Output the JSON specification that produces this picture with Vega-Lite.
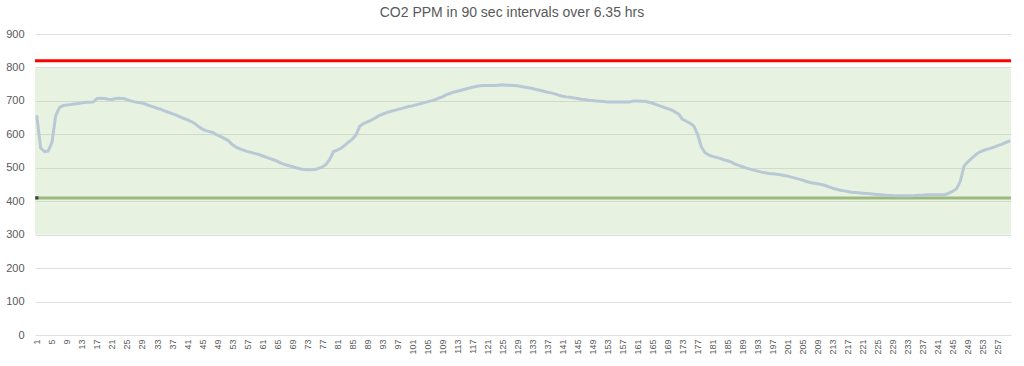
{
  "$schema": "https://vega.github.io/schema/vega-lite/v6.json",
  "autosize": {"type": "none"},
  "width": 976,
  "height": 301,
  "padding": {"left": 35, "top": 34, "right": 13, "bottom": 31},
  "background": "white",
  "title": {
    "text": "CO2 PPM in 90 sec intervals over 6.35 hrs",
    "font": "Liberation Sans",
    "fontSize": 14,
    "fontWeight": "normal",
    "color": "#595959",
    "offset": 8,
    "dx": -11
  },
  "config": {
    "view": {"stroke": null},
    "axis": {"labelFont": "Liberation Sans", "labelColor": "#595959"}
  },
  "datasets": {
    "co2": [
      {"i":1,"ppm":653},{"i":2,"ppm":560},{"i":3,"ppm":548},{"i":4,"ppm":550},{"i":5,"ppm":575},{"i":6,"ppm":655},{"i":7,"ppm":680},{"i":8,"ppm":686},{"i":9,"ppm":688},{"i":10,"ppm":689},
      {"i":11,"ppm":691},{"i":12,"ppm":692},{"i":13,"ppm":694},{"i":14,"ppm":696},{"i":15,"ppm":696},{"i":16,"ppm":697},{"i":17,"ppm":707},{"i":18,"ppm":708},{"i":19,"ppm":707},{"i":20,"ppm":705},
      {"i":21,"ppm":704},{"i":22,"ppm":707},{"i":23,"ppm":708},{"i":24,"ppm":707},{"i":25,"ppm":704},{"i":26,"ppm":700},{"i":27,"ppm":697},{"i":28,"ppm":695},{"i":29,"ppm":694},{"i":30,"ppm":690},
      {"i":31,"ppm":686},{"i":32,"ppm":682},{"i":33,"ppm":678},{"i":34,"ppm":675},{"i":35,"ppm":670},{"i":36,"ppm":666},{"i":37,"ppm":662},{"i":38,"ppm":658},{"i":39,"ppm":653},{"i":40,"ppm":648},
      {"i":41,"ppm":644},{"i":42,"ppm":639},{"i":43,"ppm":633},{"i":44,"ppm":624},{"i":45,"ppm":616},{"i":46,"ppm":611},{"i":47,"ppm":608},{"i":48,"ppm":605},{"i":49,"ppm":598},{"i":50,"ppm":593},
      {"i":51,"ppm":587},{"i":52,"ppm":581},{"i":53,"ppm":570},{"i":54,"ppm":562},{"i":55,"ppm":557},{"i":56,"ppm":553},{"i":57,"ppm":549},{"i":58,"ppm":546},{"i":59,"ppm":543},{"i":60,"ppm":540},
      {"i":61,"ppm":536},{"i":62,"ppm":532},{"i":63,"ppm":528},{"i":64,"ppm":524},{"i":65,"ppm":520},{"i":66,"ppm":514},{"i":67,"ppm":510},{"i":68,"ppm":507},{"i":69,"ppm":504},{"i":70,"ppm":500},
      {"i":71,"ppm":497},{"i":72,"ppm":495},{"i":73,"ppm":494},{"i":74,"ppm":494},{"i":75,"ppm":495},{"i":76,"ppm":498},{"i":77,"ppm":502},{"i":78,"ppm":510},{"i":79,"ppm":525},{"i":80,"ppm":548},
      {"i":81,"ppm":553},{"i":82,"ppm":558},{"i":83,"ppm":567},{"i":84,"ppm":577},{"i":85,"ppm":585},{"i":86,"ppm":598},{"i":87,"ppm":624},{"i":88,"ppm":632},{"i":89,"ppm":637},{"i":90,"ppm":642},
      {"i":91,"ppm":648},{"i":92,"ppm":655},{"i":93,"ppm":660},{"i":94,"ppm":664},{"i":95,"ppm":668},{"i":96,"ppm":671},{"i":97,"ppm":674},{"i":98,"ppm":677},{"i":99,"ppm":680},{"i":100,"ppm":683},
      {"i":101,"ppm":685},{"i":102,"ppm":688},{"i":103,"ppm":691},{"i":104,"ppm":694},{"i":105,"ppm":697},{"i":106,"ppm":700},{"i":107,"ppm":703},{"i":108,"ppm":708},{"i":109,"ppm":712},{"i":110,"ppm":718},
      {"i":111,"ppm":722},{"i":112,"ppm":726},{"i":113,"ppm":729},{"i":114,"ppm":732},{"i":115,"ppm":735},{"i":116,"ppm":738},{"i":117,"ppm":741},{"i":118,"ppm":743},{"i":119,"ppm":745},{"i":120,"ppm":746},
      {"i":121,"ppm":746},{"i":122,"ppm":746},{"i":123,"ppm":746},{"i":124,"ppm":747},{"i":125,"ppm":748},{"i":126,"ppm":747},{"i":127,"ppm":747},{"i":128,"ppm":746},{"i":129,"ppm":745},{"i":130,"ppm":743},
      {"i":131,"ppm":741},{"i":132,"ppm":739},{"i":133,"ppm":737},{"i":134,"ppm":734},{"i":135,"ppm":732},{"i":136,"ppm":729},{"i":137,"ppm":726},{"i":138,"ppm":724},{"i":139,"ppm":721},{"i":140,"ppm":717},
      {"i":141,"ppm":714},{"i":142,"ppm":712},{"i":143,"ppm":711},{"i":144,"ppm":709},{"i":145,"ppm":707},{"i":146,"ppm":705},{"i":147,"ppm":704},{"i":148,"ppm":702},{"i":149,"ppm":701},{"i":150,"ppm":700},
      {"i":151,"ppm":699},{"i":152,"ppm":698},{"i":153,"ppm":697},{"i":154,"ppm":697},{"i":155,"ppm":697},{"i":156,"ppm":697},{"i":157,"ppm":697},{"i":158,"ppm":697},{"i":159,"ppm":697},{"i":160,"ppm":700},
      {"i":161,"ppm":700},{"i":162,"ppm":699},{"i":163,"ppm":699},{"i":164,"ppm":696},{"i":165,"ppm":693},{"i":166,"ppm":689},{"i":167,"ppm":685},{"i":168,"ppm":681},{"i":169,"ppm":677},{"i":170,"ppm":673},
      {"i":171,"ppm":667},{"i":172,"ppm":660},{"i":173,"ppm":645},{"i":174,"ppm":639},{"i":175,"ppm":633},{"i":176,"ppm":625},{"i":177,"ppm":600},{"i":178,"ppm":563},{"i":179,"ppm":545},{"i":180,"ppm":538},
      {"i":181,"ppm":534},{"i":182,"ppm":531},{"i":183,"ppm":528},{"i":184,"ppm":524},{"i":185,"ppm":521},{"i":186,"ppm":517},{"i":187,"ppm":511},{"i":188,"ppm":507},{"i":189,"ppm":503},{"i":190,"ppm":499},
      {"i":191,"ppm":496},{"i":192,"ppm":493},{"i":193,"ppm":490},{"i":194,"ppm":487},{"i":195,"ppm":485},{"i":196,"ppm":483},{"i":197,"ppm":482},{"i":198,"ppm":481},{"i":199,"ppm":479},{"i":200,"ppm":477},
      {"i":201,"ppm":475},{"i":202,"ppm":472},{"i":203,"ppm":469},{"i":204,"ppm":466},{"i":205,"ppm":463},{"i":206,"ppm":459},{"i":207,"ppm":456},{"i":208,"ppm":454},{"i":209,"ppm":452},{"i":210,"ppm":450},
      {"i":211,"ppm":447},{"i":212,"ppm":443},{"i":213,"ppm":439},{"i":214,"ppm":436},{"i":215,"ppm":433},{"i":216,"ppm":431},{"i":217,"ppm":429},{"i":218,"ppm":427},{"i":219,"ppm":426},{"i":220,"ppm":425},
      {"i":221,"ppm":424},{"i":222,"ppm":423},{"i":223,"ppm":422},{"i":224,"ppm":421},{"i":225,"ppm":420},{"i":226,"ppm":419},{"i":227,"ppm":418},{"i":228,"ppm":417},{"i":229,"ppm":417},{"i":230,"ppm":416},
      {"i":231,"ppm":416},{"i":232,"ppm":416},{"i":233,"ppm":416},{"i":234,"ppm":416},{"i":235,"ppm":417},{"i":236,"ppm":418},{"i":237,"ppm":418},{"i":238,"ppm":419},{"i":239,"ppm":419},{"i":240,"ppm":419},
      {"i":241,"ppm":419},{"i":242,"ppm":419},{"i":243,"ppm":420},{"i":244,"ppm":424},{"i":245,"ppm":430},{"i":246,"ppm":437},{"i":247,"ppm":460},{"i":248,"ppm":505},{"i":249,"ppm":518},{"i":250,"ppm":528},
      {"i":251,"ppm":538},{"i":252,"ppm":546},{"i":253,"ppm":551},{"i":254,"ppm":555},{"i":255,"ppm":558},{"i":256,"ppm":562},{"i":257,"ppm":566},{"i":258,"ppm":570},{"i":259,"ppm":575},{"i":260,"ppm":580}
    ],
    "band": [{"low": 300, "high": 800}],
    "upper": [{"level": 820}],
    "lower": [{"level": 410}],
    "marker": [{"i": 1, "level": 410}]
  },
  "encoding": {
    "x": {
      "field": "i",
      "type": "quantitative",
      "scale": {"domain": [0.5, 260.5], "nice": false, "zero": false},
      "axis": {
        "title": null,
        "grid": false,
        "domain": false,
        "ticks": false,
        "labelAngle": -90,
        "labelFontSize": 9,
        "labelPadding": 4,
        "labelFlush": false,
        "labelOverlap": false,
        "values": [1,5,9,13,17,21,25,29,33,37,41,45,49,53,57,61,65,69,73,77,81,85,89,93,97,101,105,109,113,117,121,125,129,133,137,141,145,149,153,157,161,165,169,173,177,181,185,189,193,197,201,205,209,213,217,221,225,229,233,237,241,245,249,253,257]
      }
    }
  },
  "layer": [
    {
      "data": {"name": "band"},
      "mark": {"type": "rect", "color": "#a9d08e", "opacity": 0.27},
      "encoding": {
        "x": null,
        "y": {
          "field": "low",
          "type": "quantitative",
          "scale": {"domain": [0, 900], "nice": false, "zero": true},
          "axis": {
            "title": null,
            "values": [0,100,200,300,400,500,600,700,800,900],
            "grid": true,
            "gridColor": "#e0e0e0",
            "gridWidth": 1,
            "domain": false,
            "ticks": false,
            "labelFontSize": 11,
            "labelPadding": 11,
            "labelOverlap": false,
            "labelFlush": false
          }
        },
        "y2": {"field": "high"}
      }
    },
    {
      "data": {"name": "upper"},
      "mark": {"type": "rule", "color": "#ff0000", "strokeWidth": 3},
      "encoding": {
        "x": null,
        "y": {
          "field": "level",
          "type": "quantitative",
          "axis": {
            "title": null,
            "values": [0,100,200,300,400,500,600,700,800,900],
            "grid": true,
            "gridColor": "#e0e0e0",
            "gridWidth": 1,
            "domain": false,
            "ticks": false,
            "labelFontSize": 11,
            "labelPadding": 11,
            "labelOverlap": false,
            "labelFlush": false
          }
        }
      }
    },
    {
      "data": {"name": "lower"},
      "mark": {"type": "rule", "color": "#9cba7f", "strokeWidth": 3},
      "encoding": {
        "x": null,
        "y": {
          "field": "level",
          "type": "quantitative",
          "axis": {
            "title": null,
            "values": [0,100,200,300,400,500,600,700,800,900],
            "grid": true,
            "gridColor": "#e0e0e0",
            "gridWidth": 1,
            "domain": false,
            "ticks": false,
            "labelFontSize": 11,
            "labelPadding": 11,
            "labelOverlap": false,
            "labelFlush": false
          }
        }
      }
    },
    {
      "data": {"name": "co2"},
      "mark": {"type": "line", "color": "#b8c9d5", "strokeWidth": 3, "strokeJoin": "round", "strokeCap": "round"},
      "encoding": {
        "y": {
          "field": "ppm",
          "type": "quantitative",
          "axis": {
            "title": null,
            "values": [0,100,200,300,400,500,600,700,800,900],
            "grid": true,
            "gridColor": "#e0e0e0",
            "gridWidth": 1,
            "domain": false,
            "ticks": false,
            "labelFontSize": 11,
            "labelPadding": 11,
            "labelOverlap": false,
            "labelFlush": false
          }
        }
      }
    },
    {
      "data": {"name": "marker"},
      "mark": {"type": "point", "shape": "square", "filled": true, "color": "#404040", "size": 10, "opacity": 1},
      "encoding": {
        "y": {
          "field": "level",
          "type": "quantitative",
          "axis": {
            "title": null,
            "values": [0,100,200,300,400,500,600,700,800,900],
            "grid": true,
            "gridColor": "#e0e0e0",
            "gridWidth": 1,
            "domain": false,
            "ticks": false,
            "labelFontSize": 11,
            "labelPadding": 11,
            "labelOverlap": false,
            "labelFlush": false
          }
        }
      }
    }
  ]
}
